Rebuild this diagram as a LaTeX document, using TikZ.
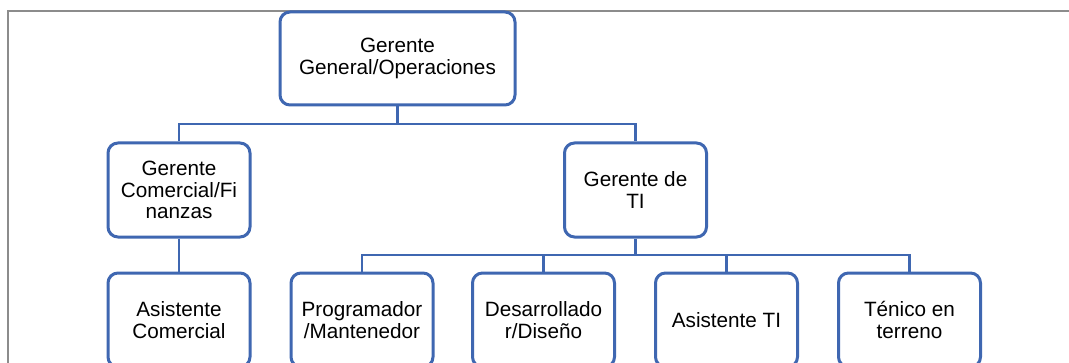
\documentclass[tikz,border=0pt]{standalone}
\usepackage{fontspec}
\setmainfont{Liberation Sans}
\definecolor{boxblue}{HTML}{3F67B1}
\definecolor{framegray}{HTML}{8C8C8C}
\begin{document}
\begin{tikzpicture}[x=0.5pt,y=-0.5pt,
  orgbox/.style={draw=boxblue, line width=1.5pt, rounded corners=5pt, fill=white,
    align=center, inner sep=2pt, minimum width=71pt, minimum height=47pt,
    font=\fontsize{10.35pt}{10.75pt}\selectfont},
  conn/.style={draw=boxblue, line width=1.1pt},
  frameline/.style={draw=framegray, line width=0.8pt}]
\useasboundingbox (0,0) rectangle (1069,363);
\begin{scope}
\clip (0,0) rectangle (1069,363);
\coordinate (fa) at (8,11);
\coordinate (fb) at (1075,11);
\coordinate (fc) at (8,370);
\draw[frameline] (fb) -- (fa) -- (fc);
\coordinate (b1) at (0,124);
\coordinate (b2) at (0,255);
\node[orgbox, minimum width=117.5pt, minimum height=46.5pt] (top) at (397.5,58.5) {Gerente\\General/Operaciones};
\node[orgbox] (gc) at (179,190) {Gerente\\Comercial/Fi\\nanzas};
\node[orgbox] (ti) at (635.5,190) {Gerente de\\TI};
\node[orgbox] (ac) at (179,320) {Asistente\\Comercial};
\node[orgbox] (pr) at (362,320) {Programador\\/Mantenedor};
\node[orgbox] (de) at (543.5,320) {Desarrollado\\r/Diseño};
\node[orgbox] (at) at (726.5,320) {Asistente TI};
\node[orgbox] (te) at (909.5,320) {Ténico en\\terreno};
\draw[conn] (top.south) -- (top.south|-b1);
\draw[conn] (gc.north) -- (gc.north|-b1) -- (ti.north|-b1) -- (ti.north);
\draw[conn] (gc.south) -- (ac.north);
\draw[conn] (ti.south) -- (ti.south|-b2);
\draw[conn] (pr.north) -- (pr.north|-b2) -- (te.north|-b2) -- (te.north);
\draw[conn] (de.north) -- (de.north|-b2);
\draw[conn] (at.north) -- (at.north|-b2);
\end{scope}
\end{tikzpicture}
\end{document}
